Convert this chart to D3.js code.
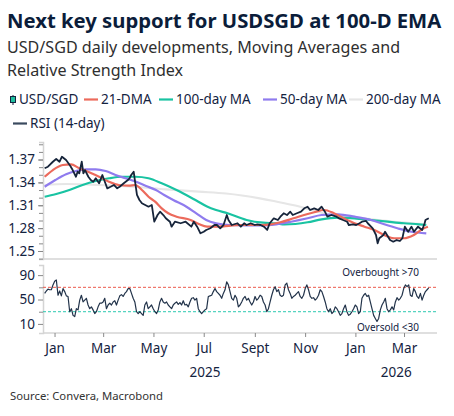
<!DOCTYPE html>
<html>
<head>
<meta charset="utf-8">
<script src="https://cdn.jsdelivr.net/npm/d3@7"></script>
<style>
  body { margin: 0; background: #fff; }
  svg { font-family: "Segoe UI", "Noto Sans", "Open Sans", sans-serif; }
</style>
</head>
<body>
<div id="chart"></div>
<script>
var width  = 454;
var height = 416;

// USD/SGD spot
var usdsgd = [
  ["2024-12-20",1.3585],["2024-12-24",1.3606],["2024-12-30",1.3671],["2025-01-03",1.3707],["2025-01-07",1.3671],
  ["2025-01-10",1.3737],["2025-01-15",1.3693],["2025-01-20",1.3619],["2025-01-23",1.3562],["2025-01-27",1.3474],
  ["2025-01-29",1.3540],["2025-01-31",1.3519],["2025-02-03",1.3671],["2025-02-05",1.3519],["2025-02-07",1.3562],
  ["2025-02-11",1.3474],["2025-02-14",1.3431],["2025-02-17",1.3409],["2025-02-20",1.3454],["2025-02-24",1.3388],
  ["2025-02-28",1.3497],["2025-03-03",1.3409],["2025-03-06",1.3322],["2025-03-10",1.3343],["2025-03-14",1.3366],
  ["2025-03-18",1.3322],["2025-03-21",1.3343],["2025-03-26",1.3388],["2025-03-31",1.3431],["2025-04-02",1.3454],
  ["2025-04-04",1.3497],["2025-04-07",1.3540],["2025-04-09",1.3388],["2025-04-11",1.3235],["2025-04-14",1.3169],
  ["2025-04-17",1.3126],["2025-04-21",1.3103],["2025-04-25",1.3081],["2025-04-29",1.3103],["2025-05-02",1.2884],
  ["2025-05-06",1.2972],["2025-05-09",1.3016],["2025-05-13",1.2972],["2025-05-16",1.2929],["2025-05-21",1.2884],
  ["2025-05-23",1.2819],["2025-05-27",1.2884],["2025-06-03",1.2864],["2025-06-09",1.2884],["2025-06-16",1.2819],
  ["2025-06-19",1.2884],["2025-06-23",1.2819],["2025-06-27",1.2732],["2025-07-01",1.2753],["2025-07-04",1.2776],
  ["2025-07-09",1.2798],["2025-07-14",1.2841],["2025-07-17",1.2841],["2025-07-21",1.2798],["2025-07-25",1.2841],
  ["2025-07-29",1.2972],["2025-07-31",1.2907],["2025-08-04",1.2841],["2025-08-11",1.2864],["2025-08-15",1.2819],
  ["2025-08-19",1.2864],["2025-08-22",1.2841],["2025-08-27",1.2864],["2025-09-01",1.2841],["2025-09-04",1.2850],
  ["2025-09-08",1.2841],["2025-09-12",1.2819],["2025-09-16",1.2776],["2025-09-19",1.2864],["2025-09-24",1.2929],
  ["2025-09-29",1.2907],["2025-10-02",1.2950],["2025-10-06",1.2995],["2025-10-10",1.2972],["2025-10-14",1.3016],
  ["2025-10-17",1.2972],["2025-10-22",1.2995],["2025-10-27",1.3016],["2025-10-31",1.3060],["2025-11-04",1.3081],
  ["2025-11-07",1.3038],["2025-11-12",1.3060],["2025-11-17",1.3038],["2025-11-21",1.3081],["2025-11-25",1.3016],
  ["2025-11-28",1.2950],["2025-12-03",1.2972],["2025-12-09",1.2950],["2025-12-12",1.2929],["2025-12-17",1.2907],
  ["2025-12-22",1.2884],["2025-12-24",1.2841],["2025-12-29",1.2850],["2026-01-02",1.2841],["2026-01-06",1.2864],
  ["2026-01-09",1.2884],["2026-01-14",1.2894],["2026-01-16",1.2864],["2026-01-22",1.2798],["2026-01-26",1.2710],
  ["2026-01-28",1.2601],["2026-01-30",1.2667],["2026-02-04",1.2710],["2026-02-06",1.2753],["2026-02-12",1.2644],
  ["2026-02-16",1.2622],["2026-02-20",1.2644],["2026-02-24",1.2631],["2026-02-27",1.2667],["2026-03-02",1.2819],
  ["2026-03-06",1.2753],["2026-03-10",1.2819],["2026-03-13",1.2753],["2026-03-18",1.2819],["2026-03-23",1.2776],
  ["2026-03-26",1.2864],["2026-03-27",1.2907],["2026-03-31",1.2929]
];

var dma21 = [
  ["2024-12-20",1.3474],["2024-12-30",1.3562],["2025-01-11",1.3628],["2025-01-21",1.3637],["2025-01-31",1.3585],
  ["2025-02-12",1.3532],["2025-02-24",1.3474],["2025-03-08",1.3409],["2025-03-20",1.3366],["2025-04-01",1.3357],
  ["2025-04-09",1.3366],["2025-04-17",1.3300],["2025-04-25",1.3212],["2025-05-03",1.3147],["2025-05-11",1.3060],
  ["2025-05-19",1.2995],["2025-05-29",1.2950],["2025-06-15",1.2907],["2025-06-25",1.2854],["2025-07-05",1.2819],
  ["2025-07-17",1.2819],["2025-08-15",1.2841],["2025-09-08",1.2841],["2025-09-20",1.2850],["2025-10-02",1.2877],
  ["2025-10-18",1.2929],["2025-11-03",1.2982],["2025-11-12",1.3008],["2025-11-24",1.3038],["2025-12-06",1.2995],
  ["2025-12-18",1.2929],["2025-12-31",1.2864],["2026-01-12",1.2819],["2026-01-24",1.2775],["2026-02-05",1.2710],
  ["2026-02-17",1.2667],["2026-03-01",1.2667],["2026-03-13",1.2710],["2026-03-25",1.2798],["2026-03-30",1.2819]
];

var ma100 = [
  ["2024-12-20",1.3212],["2025-01-02",1.3244],["2025-01-19",1.3300],["2025-02-04",1.3366],["2025-02-20",1.3418],
  ["2025-03-08",1.3454],["2025-03-24",1.3474],["2025-04-09",1.3474],["2025-04-25",1.3454],["2025-05-11",1.3388],
  ["2025-05-29",1.3300],["2025-06-22",1.3162],["2025-07-05",1.3084],["2025-07-16",1.3038],["2025-07-30",1.2995],
  ["2025-08-22",1.2907],["2025-09-11",1.2871],["2025-09-27",1.2863],["2025-10-07",1.2848],["2025-11-04",1.2877],
  ["2025-11-21",1.2916],["2025-12-11",1.2937],["2025-12-31",1.2929],["2026-01-20",1.2907],["2026-02-09",1.2885],
  ["2026-03-01",1.2864],["2026-03-19",1.2850],["2026-03-28",1.2841]
];

var ma50 = [
  ["2024-12-20",1.3343],["2025-01-02",1.3431],["2025-01-15",1.3506],["2025-01-27",1.3549],["2025-02-08",1.3572],
  ["2025-02-20",1.3572],["2025-03-04",1.3549],["2025-03-16",1.3497],["2025-03-28",1.3454],["2025-04-10",1.3409],
  ["2025-04-22",1.3353],["2025-05-04",1.3300],["2025-05-14",1.3234],["2025-05-25",1.3169],["2025-06-10",1.3081],
  ["2025-06-22",1.2994],["2025-07-04",1.2907],["2025-07-16",1.2863],["2025-08-01",1.2841],["2025-08-22",1.2835],
  ["2025-09-11",1.2835],["2025-09-27",1.2850],["2025-10-15",1.2884],["2025-11-04",1.2929],["2025-11-21",1.2972],
  ["2025-12-11",1.2981],["2025-12-31",1.2950],["2026-01-20",1.2907],["2026-02-05",1.2850],["2026-02-21",1.2798],
  ["2026-03-10",1.2753],["2026-03-28",1.2732]
];

var ma200 = [
  ["2024-12-20",1.3366],["2025-01-15",1.3379],["2025-02-25",1.3366],["2025-04-06",1.3343],["2025-05-16",1.3309],
  ["2025-06-25",1.3278],["2025-07-28",1.3254],["2025-09-07",1.3191],["2025-09-24",1.3156],["2025-10-17",1.3103],
  ["2025-11-02",1.3060],["2025-12-01",1.2975],["2026-01-06",1.2935],["2026-02-12",1.2890],["2026-03-28",1.2850]
];

// RSI (14-day), evenly spaced readings from rsiStart to rsiEnd
var rsiStart = "2024-12-20";
var rsiEnd   = "2026-03-31";
var rsi = [
  60,64,67,66,66,74,80,82,57,64,56,68,63,56,55,30,35,24,22,35,33,49,57,46,49,52,41,35,38,33,
  27,30,38,44,44,46,52,35,41,44,41,46,48,41,49,56,58,55,60,63,68,68,60,52,46,30,27,30,27,24,
  41,46,35,38,41,35,30,27,33,46,52,46,44,46,41,38,35,41,44,46,42,45,41,48,41,42,38,46,52,53,
  49,52,35,30,27,30,33,35,55,56,57,63,68,63,60,57,52,60,66,79,74,63,52,49,57,52,38,41,46,52,
  55,49,52,46,41,46,55,49,52,57,55,46,41,30,35,46,57,66,71,63,66,57,55,57,74,77,66,60,52,55,
  57,60,63,55,52,57,68,74,66,55,52,53,49,52,57,66,63,55,46,35,30,35,27,30,38,35,30,24,27,35,
  41,30,24,26,30,35,41,38,27,30,52,57,60,55,57,46,35,24,19,14,19,33,41,46,52,35,30,33,38,33,
  46,53,49,52,57,68,74,71,74,57,55,68,63,55,52,60,49,57,63,66,69
];

var monthLabels = ["Jan", "Mar", "May", "Jul", "Sept", "Nov", "Jan", "Mar"];
var priceTicks  = [1.25, 1.28, 1.31, 1.34, 1.37];
var rsiTicks    = [10, 50, 90];
var overbought  = 70;
var oversold    = 30;

var parse = d3.timeParse("%Y-%m-%d");
var toPts = function(arr) { return arr.map(function(d) { return { date: parse(d[0]), value: d[1] }; }); };

var priceData = toPts(usdsgd);
var series = [
  { name: "200-day MA", data: toPts(ma200), color: "#e6e6e6", w: 2.2 },
  { name: "100-day MA", data: toPts(ma100), color: "#19c3a2", w: 2.2 },
  { name: "50-day MA",  data: toPts(ma50),  color: "#8f7bee", w: 2.2 },
  { name: "21-DMA",     data: toPts(dma21), color: "#ec6a5c", w: 2.2 }
];

var t0 = parse(rsiStart), t1 = parse(rsiEnd);
var rsiData = rsi.map(function(v, i) {
  return { date: new Date(+t0 + (t1 - t0) * i / (rsi.length - 1)), value: v };
});

var navy = "#14233f";
var tickCol = "#8a8a8a";
var axisCol = "#d4d4d4";

var svg = d3.select("#chart").append("svg")
  .attr("width", width).attr("height", height);

// titles
svg.append("text").attr("x", 7).attr("y", 28)
  .style("font-size", "20.3px").style("font-weight", "bold").attr("fill", "#0b1d3a")
  .text("Next key support for USDSGD at 100-D EMA");
svg.append("text").attr("x", 7).attr("y", 53)
  .style("font-size", "16.1px").attr("fill", "#2f2f2f")
  .text("USD/SGD daily developments, Moving Averages and");
svg.append("text").attr("x", 7).attr("y", 76)
  .style("font-size", "16.1px").attr("fill", "#2f2f2f")
  .text("Relative Strength Index");

// legend
var legend = [
  { label: "USD/SGD",     x: 10,  y: 104, color: "box" },
  { label: "21-DMA",      x: 84,  y: 104, color: "#ec6a5c" },
  { label: "100-day MA",  x: 159, y: 104, color: "#19c3a2" },
  { label: "50-day MA",   x: 263, y: 104, color: "#8f7bee" },
  { label: "200-day MA",  x: 349, y: 104, color: "#e6e6e6" },
  { label: "RSI (14-day)",x: 13,  y: 128, color: "#3a4a5e" }
];
var lg = svg.append("g");
legend.forEach(function(l) {
  var tx;
  if (l.color === "box") {
    lg.append("line").attr("x1", l.x + 3).attr("x2", l.x + 3).attr("y1", l.y - 9).attr("y2", l.y + 1)
      .attr("stroke", navy).attr("stroke-width", 1);
    lg.append("rect").attr("x", l.x + 0.5).attr("y", l.y - 7.5).attr("width", 5).attr("height", 6)
      .attr("fill", "#1fbf9f").attr("stroke", navy).attr("stroke-width", 1);
    tx = l.x + 9;
  } else {
    lg.append("line").attr("x1", l.x).attr("x2", l.x + 14).attr("y1", l.y - 4.5).attr("y2", l.y - 4.5)
      .attr("stroke", l.color).attr("stroke-width", 2.2);
    tx = l.x + 17;
  }
  lg.append("text").attr("x", tx).attr("y", l.y)
    .style("font-size", "13.5px").attr("fill", navy).text(l.label);
});

// scales
var x = d3.scaleTime()
  .domain([parse("2024-12-18"), parse("2026-04-10")])
  .range([43, 437]);
var y = d3.scaleLinear().domain([1.2395, 1.393]).range([259, 142]);
var yr = d3.scaleLinear().domain([-4.9, 106.6]).range([333, 265]);

svg.append("clipPath").attr("id", "clipTop").append("rect")
  .attr("x", 43).attr("y", 142).attr("width", 394).attr("height", 117);
svg.append("clipPath").attr("id", "clipBot").append("rect")
  .attr("x", 43).attr("y", 265).attr("width", 394).attr("height", 68);

var styleAxis = function(g, fontSize) {
  g.select(".domain").attr("stroke", axisCol).attr("stroke-width", 1.5);
  g.selectAll(".tick line").attr("stroke", tickCol);
  g.selectAll(".tick text").attr("fill", navy).style("font-size", fontSize)
    .style("font-family", "\"Segoe UI\", \"Noto Sans\", sans-serif");
};

// top panel axes
var minorTop = d3.range(124, 140).map(function(d) { return d / 100; });
svg.append("g").attr("transform", "translate(43,0)")
  .call(d3.axisLeft(y).tickValues(minorTop).tickSize(4).tickFormat(""))
  .call(function(g) { styleAxis(g, "13.5px"); });
svg.append("g").attr("transform", "translate(43,0)")
  .call(d3.axisLeft(y).tickValues(priceTicks).tickSize(5).tickPadding(3).tickFormat(d3.format(".2f")))
  .call(function(g) { styleAxis(g, "13.5px"); g.select(".domain").remove(); });
svg.append("line").attr("x1", 43).attr("x2", 437).attr("y1", 259).attr("y2", 259)
  .attr("stroke", axisCol).attr("stroke-width", 1.5);

// moving averages then price
var maLine = d3.line()
  .x(function(d) { return x(d.date); })
  .y(function(d) { return y(d.value); })
  .curve(d3.curveMonotoneX);
var topG = svg.append("g").attr("clip-path", "url(#clipTop)");
series.forEach(function(s) {
  topG.append("path").datum(s.data).attr("d", maLine)
    .attr("fill", "none").attr("stroke", s.color).attr("stroke-width", s.w);
});
var priceLine = d3.line()
  .x(function(d) { return x(d.date); })
  .y(function(d) { return y(d.value); });
topG.append("path").datum(priceData).attr("d", priceLine)
  .attr("fill", "none").attr("stroke", "#16243a").attr("stroke-width", 1.8)
  .attr("stroke-linejoin", "round");

// RSI panel
svg.append("g").attr("transform", "translate(43,0)")
  .call(d3.axisLeft(yr).tickValues([30, 70]).tickSize(4).tickFormat(""))
  .call(function(g) { styleAxis(g, "13.5px"); });
svg.append("g").attr("transform", "translate(43,0)")
  .call(d3.axisLeft(yr).tickValues(rsiTicks).tickSize(5).tickPadding(3))
  .call(function(g) { styleAxis(g, "13.5px"); g.select(".domain").remove(); });

svg.append("line").attr("x1", 43).attr("x2", 437)
  .attr("y1", yr(overbought)).attr("y2", yr(overbought))
  .attr("stroke", "#ec5a4c").attr("stroke-width", 1).attr("stroke-dasharray", "3,2");
svg.append("line").attr("x1", 43).attr("x2", 437)
  .attr("y1", yr(oversold)).attr("y2", yr(oversold))
  .attr("stroke", "#2cc9b0").attr("stroke-width", 1).attr("stroke-dasharray", "3,2");

var rsiLine = d3.line()
  .x(function(d) { return x(d.date); })
  .y(function(d) { return yr(d.value); });
svg.append("g").attr("clip-path", "url(#clipBot)")
  .append("path").datum(rsiData).attr("d", rsiLine)
  .attr("fill", "none").attr("stroke", "#22334a").attr("stroke-width", 1.2)
  .attr("stroke-linejoin", "round");

svg.append("text").attr("x", 419).attr("y", 276).attr("text-anchor", "end")
  .style("font-size", "10px").attr("fill", navy).text("Overbought >70");
svg.append("text").attr("x", 419).attr("y", 331).attr("text-anchor", "end")
  .style("font-size", "10px").attr("fill", navy).text("Oversold <30");

// x axis
var monthTicks = d3.timeMonth.every(2).range(parse("2025-01-01"), parse("2026-04-01"));
svg.append("g").attr("transform", "translate(0,333)")
  .call(d3.axisBottom(x).tickValues(monthTicks).tickSize(4).tickPadding(6)
    .tickFormat(function(d, i) { return monthLabels[i]; }))
  .call(function(g) {
    styleAxis(g, "13.5px");
    g.select(".domain").attr("d", "M43,0H437");
  });

var y25 = (x(parse("2025-01-01")) + x(parse("2026-01-01"))) / 2;
var y26 = (x(parse("2026-01-01")) + x.range()[1]) / 2;
[["2025", y25], ["2026", y26]].forEach(function(d) {
  svg.append("text").attr("x", d[1]).attr("y", 377).attr("text-anchor", "middle")
    .style("font-size", "13.5px").attr("fill", navy).text(d[0]);
});

svg.append("text").attr("x", 10).attr("y", 400)
  .style("font-size", "11.3px").attr("fill", "#333").text("Source: Convera, Macrobond");
</script>
</body>
</html>
